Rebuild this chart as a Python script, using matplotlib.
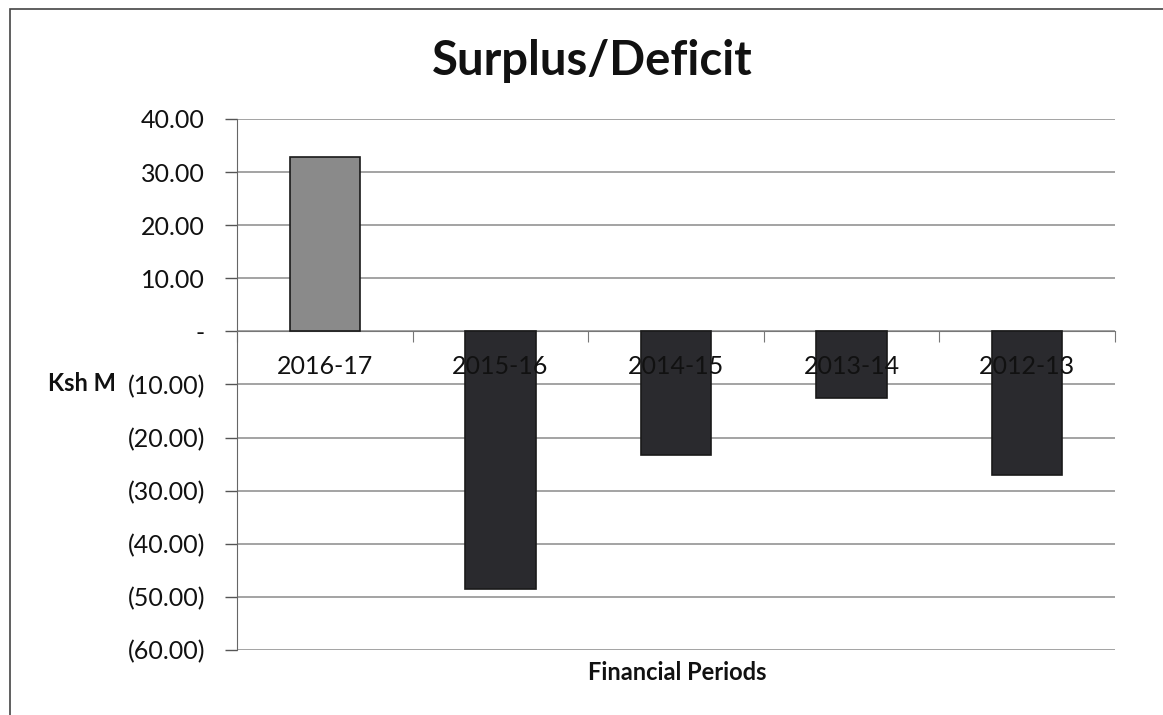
import matplotlib
matplotlib.use("Agg")
import matplotlib.pyplot as plt
import matplotlib.patches as mpatches
import matplotlib.ticker as mticker
import numpy as np

# ---- data ----
periods = ["2016-17", "2015-16", "2014-15", "2013-14", "2012-13"]
surplus = [32.9, -48.5, -23.3, -12.6, -27.0]
y_ticks = [40, 30, 20, 10, 0, -10, -20, -30, -40, -50, -60]

plt.rcParams['font.family'] = ['Lato', 'DejaVu Sans']

fig = plt.figure(figsize=(11.63, 7.15), dpi=100)
ax = fig.add_axes([0.2038, 0.0909, 0.7549, 0.7427])

x = np.arange(len(periods))
colors = ['#8a8a8a' if v >= 0 else '#2a2a2e' for v in surplus]
ax.bar(x, surplus, width=0.4, color=colors, edgecolor='#1a1a1a', linewidth=1.2, zorder=3)

ax.set_xlim(-0.5, len(periods) - 0.5)
ax.set_ylim(-60, 40)

def fmt(v, pos):
    if abs(v) < 1e-9:
        return '-'
    if v < 0:
        return '({:.2f})'.format(-v)
    return '{:.2f}'.format(v)

ax.set_yticks(y_ticks)
ax.yaxis.set_major_formatter(mticker.FuncFormatter(fmt))
ax.tick_params(axis='y', direction='out', length=9, width=1, color='#555555',
               labelsize=18, pad=14, labelcolor='#111111')
ax.grid(axis='y', color='#8a8a8a', linewidth=1.1, zorder=0)

# x axis on zero line: boundary ticks, labels drawn above bars
ax.spines['bottom'].set_position(('data', 0))
ax.spines['bottom'].set_color('#777777')
ax.set_xticks(np.arange(-0.5, len(periods), 1.0))
ax.set_xticklabels([])
ax.tick_params(axis='x', which='major', direction='out', length=8, color='#777777')
for xi, name in zip(x, periods):
    ax.annotate(name, xy=(xi, 0), xytext=(0, -17), textcoords='offset points',
                ha='center', va='top', fontsize=18, color='#111111', zorder=6)

ax.spines['top'].set_visible(False)
ax.spines['right'].set_visible(False)
ax.spines['left'].set_color('#666666')

fig.text(0.5095, 0.915, 'Surplus/Deficit', ha='center', va='center',
         fontsize=34, fontweight='bold', color='#111111')
fig.text(0.0705, 0.463, 'Ksh M', ha='center', va='center', fontsize=17,
         fontweight='bold', color='#111111')
fig.text(0.582, 0.060, 'Financial Periods', ha='center', va='center', fontsize=17,
         fontweight='bold', color='#111111')

# outer chart border
border = mpatches.Rectangle((10 / 1163, -0.1), 1.2, 1.1 - 9 / 715, transform=fig.transFigure,
                            fill=False, edgecolor='#444444', linewidth=1.2, clip_on=False)
fig.patches.append(border)

fig.savefig('out.png', dpi=100, facecolor='white')
